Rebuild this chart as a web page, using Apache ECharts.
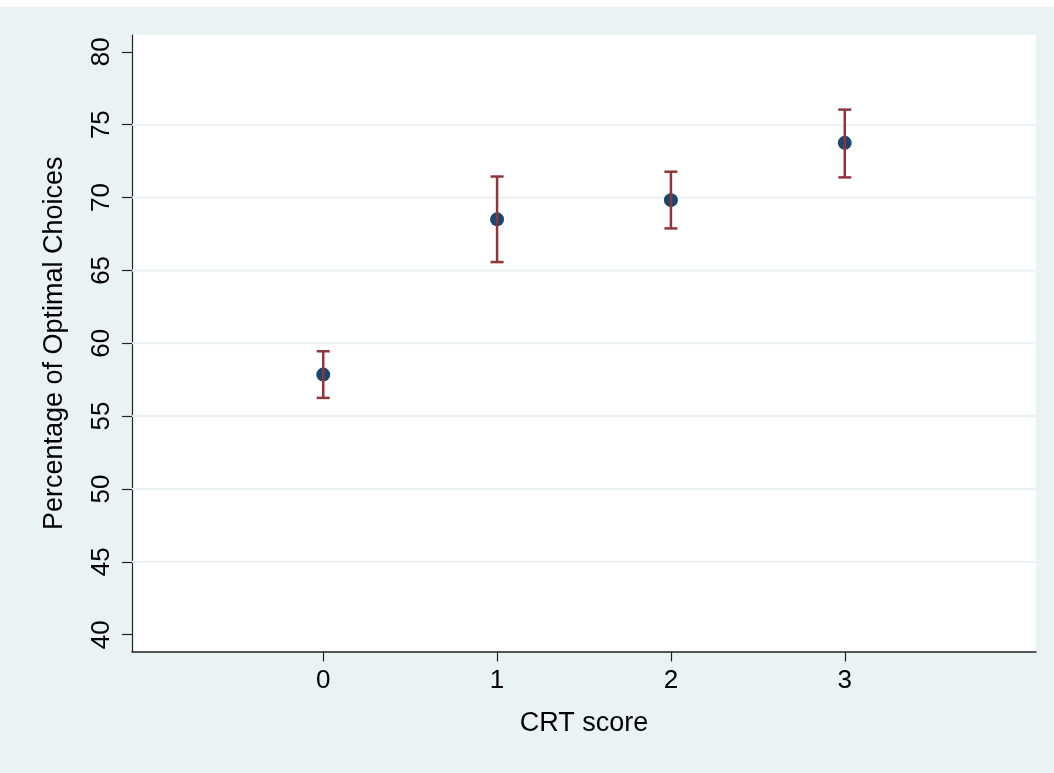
<!DOCTYPE html>
<html>
<head>
<meta charset="utf-8">
<script src="https://cdn.jsdelivr.net/npm/echarts@6/dist/echarts.min.js"></script>
<style>
  html, body { margin: 0; padding: 0; background: #fff; }
  #chart { width: 1054px; height: 766px; margin-top: 7px; background: #eaf2f3; }
</style>
</head>
<body>
<div id="chart"></div>
<script>
// CRT score categories and mean % of optimal choices with 95% CI
const crtScores = [0, 1, 2, 3];
const meanPct = [57.85, 68.5, 69.82, 73.75];
const ciLow = [56.25, 65.57, 67.88, 71.38];
const ciHigh = [59.45, 71.44, 71.77, 76.03];

const yTicks = [40, 45, 50, 55, 60, 65, 70, 75, 80];
const yGridLines = [45, 50, 55, 60, 65, 70, 75]; // Stata skips the end lines
const xTicks = [0, 1, 2, 3];

const X_MIN = -1.1, X_MAX = 4.1;
const Y_MIN = 38.85, Y_MAX = 81.15;

const axisColor = '#222';
const gridColor = '#eaf2f3';
const markerColor = '#1a476f';
const barColor = '#90353b';
const font = 'Liberation Sans, Arial, sans-serif';

const chart = echarts.init(document.getElementById('chart'));

const option = {
  animation: false,
  textStyle: { fontFamily: font },
  grid: {
    left: 132, right: 18, top: 28, bottom: 121.5,
    show: true, backgroundColor: '#fff', borderWidth: 0
  },
  xAxis: {
    type: 'value',
    min: X_MIN, max: X_MAX,
    name: 'CRT score',
    nameLocation: 'middle',
    nameGap: 59,
    nameTextStyle: { color: '#000', fontSize: 27, fontFamily: font },
    axisLine: { show: true, onZero: false, lineStyle: { color: axisColor, width: 1.5 } },
    axisTick: { show: true, length: 10, lineStyle: { color: axisColor, width: 1.2 }, customValues: xTicks },
    axisLabel: { color: '#000', fontSize: 26, margin: 16, customValues: xTicks },
    splitLine: { show: false }
  },
  yAxis: {
    type: 'value',
    min: Y_MIN, max: Y_MAX,
    name: 'Percentage of Optimal Choices',
    nameLocation: 'middle',
    nameGap: 64,
    nameTextStyle: { color: '#000', fontSize: 27, fontFamily: font },
    axisLine: { show: true, onZero: false, lineStyle: { color: axisColor, width: 1.2 } },
    axisTick: { show: true, length: 10, lineStyle: { color: axisColor, width: 1.2 }, customValues: yTicks },
    axisLabel: { color: '#000', fontSize: 26, margin: 17, rotate: 90, customValues: yTicks },
    splitLine: { show: false }
  },
  series: [
    {
      // horizontal grid lines
      type: 'custom',
      silent: true,
      z: 1,
      data: yGridLines,
      renderItem: (params, api) => {
        const v = api.value(0);
        const p1 = api.coord([X_MIN, v]);
        const p2 = api.coord([X_MAX, v]);
        return {
          type: 'line',
          shape: { x1: p1[0], y1: p1[1], x2: p2[0], y2: p2[1] },
          style: { stroke: gridColor, lineWidth: 2 }
        };
      },
      encode: { y: 0 }
    },
    {
      type: 'scatter',
      z: 2,
      symbol: 'circle',
      symbolSize: 14,
      itemStyle: { color: markerColor, opacity: 1 },
      data: crtScores.map((x, i) => [x, meanPct[i]])
    },
    {
      // confidence interval bars
      type: 'custom',
      z: 3,
      data: crtScores.map((x, i) => [x, ciLow[i], ciHigh[i]]),
      encode: { x: 0, y: [1, 2] },
      renderItem: (params, api) => {
        const lo = api.coord([api.value(0), api.value(1)]);
        const hi = api.coord([api.value(0), api.value(2)]);
        const cap = 6.5;
        const style = { stroke: barColor, lineWidth: 2.5 };
        return {
          type: 'group',
          children: [
            { type: 'line', shape: { x1: lo[0], y1: lo[1], x2: hi[0], y2: hi[1] }, style },
            { type: 'line', shape: { x1: lo[0] - cap, y1: lo[1], x2: lo[0] + cap, y2: lo[1] }, style },
            { type: 'line', shape: { x1: hi[0] - cap, y1: hi[1], x2: hi[0] + cap, y2: hi[1] }, style }
          ]
        };
      }
    }
  ]
};

chart.setOption(option);
</script>
</body>
</html>
